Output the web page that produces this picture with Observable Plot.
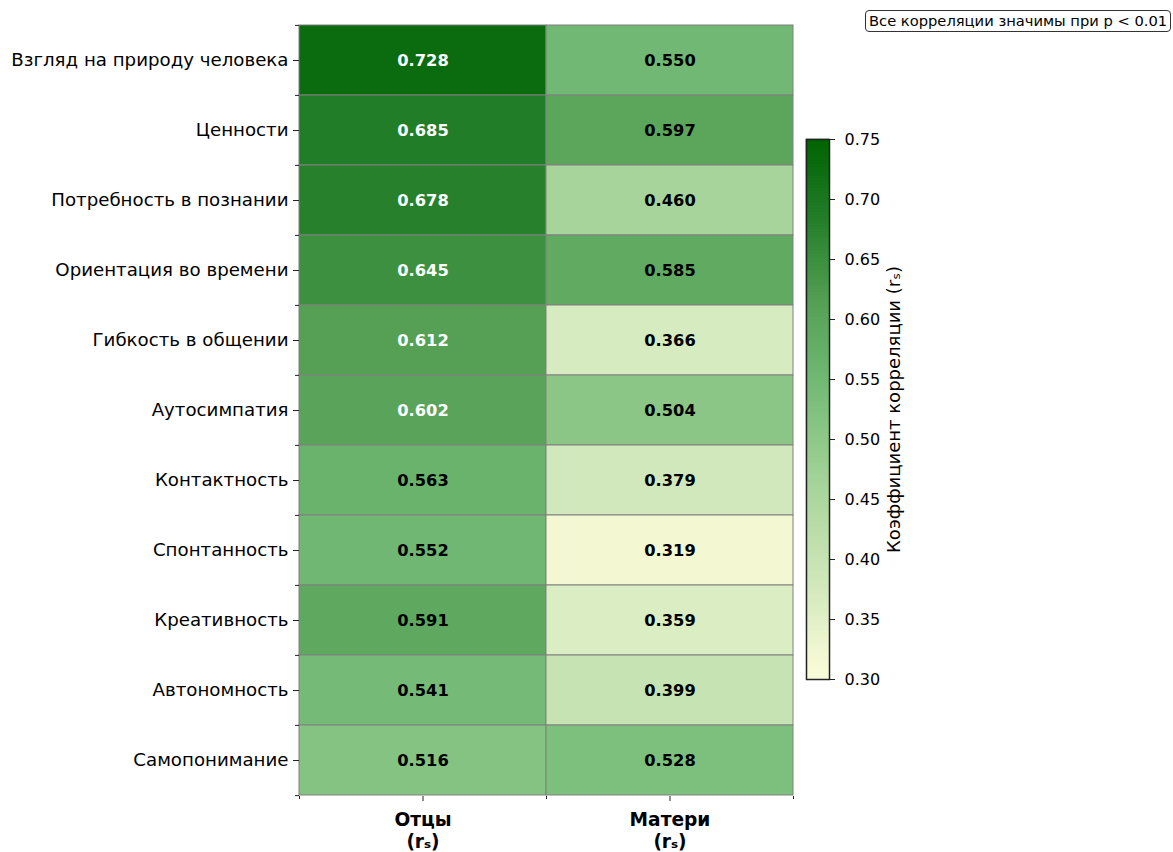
<!DOCTYPE html>
<html>
<head>
<meta charset="utf-8">
<script src="https://cdn.jsdelivr.net/npm/d3@7"></script>
<script src="https://cdn.jsdelivr.net/npm/@observablehq/plot@0.6"></script>
<style>
  body { margin: 0; background: white; }
  #wrap { position: relative; width: 1173px; height: 852px; font-family: "DejaVu Sans", sans-serif; }
  #wrap svg { position: absolute; left: 0; top: 0; }
  #note { position: absolute; left: 865px; top: 10px; font-size: 14.7px; line-height: 18px; padding: 1px 3px; border: 1px solid #333; border-radius: 4px; background: white; color: #000; white-space: nowrap; }
</style>
</head>
<body>
<div id="wrap"><div id="note">Все корреляции значимы при p &lt; 0.01</div></div>
<script>
const traits = ["Взгляд на природу человека","Ценности","Потребность в познании","Ориентация во времени","Гибкость в общении","Аутосимпатия","Контактность","Спонтанность","Креативность","Автономность","Самопонимание"];
const groups = ["Отцы\n(r\u209B)", "Матери\n(r\u209B)"];
const fathers = [0.728,0.685,0.678,0.645,0.612,0.602,0.563,0.552,0.591,0.541,0.516];
const mothers = [0.550,0.597,0.460,0.585,0.366,0.504,0.379,0.319,0.359,0.399,0.528];
const colorTicks = [0.30,0.35,0.40,0.45,0.50,0.55,0.60,0.65,0.70,0.75];
const colorStops = [0.30,0.319,0.366,0.46,0.55,0.612,0.685,0.728,0.75];
const colorRange = ["#f8fbd9","#f3f8d3","#d7ebc0","#a6d49a","#70b873","#55a055","#227d28","#0b6b0f","#006400"];

const table = [];
traits.forEach((t, i) => {
  table.push({trait: t, group: groups[0], value: fathers[i]});
  table.push({trait: t, group: groups[1], value: mothers[i]});
});
const color = {type: "linear", domain: colorStops, range: colorRange, interpolate: "rgb"};

const main = Plot.plot({
  width: 1173, height: 852,
  marginLeft: 299, marginRight: 380, marginTop: 24, marginBottom: 56,
  style: {fontFamily: "DejaVu Sans, sans-serif", background: "transparent", overflow: "visible"},
  x: {domain: groups, padding: 0, axis: null},
  y: {domain: traits, padding: 0, axis: null},
  color,
  marks: [
    Plot.cell(table, {x: "group", y: "trait", fill: "value", stroke: "#808080", strokeWidth: 1}),
    Plot.text(table, {x: "group", y: "trait", text: d => d.value.toFixed(3), fill: d => d.value > 0.6 ? "white" : "black", fontWeight: "bold", fontSize: 16.3}),
    Plot.axisY({tickSize: 6, tickPadding: 5, fontSize: 18.2, stroke: "#222", label: null}),
    Plot.axisY(traits, {tickSize: 4, dy: -35.1, tickFormat: () => "", stroke: "#222", label: null}),
    Plot.axisY(traits.slice(-1), {tickSize: 4, dy: 35.1, tickFormat: () => "", stroke: "#222", label: null}),
    Plot.axisX({tickSize: 5, tickPadding: 9, fontSize: 18.6, fontWeight: "bold", lineHeight: 1.18, stroke: "#222", label: null}),
    Plot.axisX(groups, {tickSize: 3, dx: -123.5, tickFormat: () => "", stroke: "#222", label: null}),
    Plot.axisX(groups.slice(-1), {tickSize: 3, dx: 123.5, tickFormat: () => "", stroke: "#222", label: null})
  ]
});

const step = 0.0025;
const grad = d3.range(0.3, 0.75, step).map(v => ({v}));
const bar = Plot.plot({
  width: 1173, height: 852,
  marginLeft: 806, marginRight: 344, marginTop: 139, marginBottom: 173,
  style: {fontFamily: "DejaVu Sans, sans-serif", background: "transparent", overflow: "visible"},
  x: {domain: [0, 1], axis: null},
  y: {domain: [0.3, 0.75], axis: null},
  color,
  marks: [
    Plot.rect(grad, {x1: 0, x2: 1, y1: "v", y2: d => d.v + step, fill: "v", stroke: "v", strokeWidth: 0.5}),
    Plot.frame({stroke: "#222", strokeWidth: 1.5}),
    Plot.axisY(colorTicks, {anchor: "right", tickSize: 5, tickPadding: 10, fontSize: 16, tickFormat: d3.format(".2f"), stroke: "#222", label: null}),
    Plot.axisY(colorTicks, {anchor: "right", tickSize: 0, tickFormat: () => "", fontSize: 18,
      label: "Коэффициент корреляции (r\u209B)", labelAnchor: "center", labelArrow: "none", labelOffset: 70})
  ]
});

document.getElementById("wrap").append(main, bar);
</script>
</body>
</html>
